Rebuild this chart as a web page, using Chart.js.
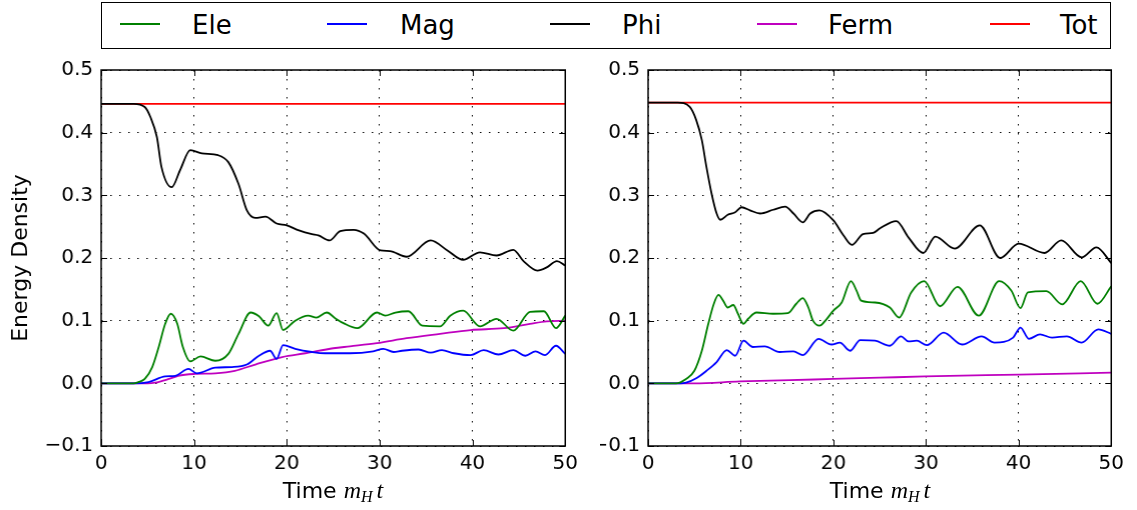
<!DOCTYPE html>
<html>
<head>
<meta charset="utf-8">
<script src="https://cdn.jsdelivr.net/npm/chart.js@4.4.0/dist/chart.umd.min.js"></script>
<style>
  body { margin: 0; background: #fff; font-family: "DejaVu Sans", sans-serif; }
  #page { position: relative; width: 1137px; height: 510px; overflow: hidden; }
  canvas { position: absolute; }
  #legend { position: absolute; left: 101px; top: 2px; width: 1010px; height: 47px;
            border: 1.5px solid #000; box-sizing: border-box; }
  .key { position: absolute; top: 20px; height: 1.8px; width: 40px; }
  .lbl { position: absolute; top: 7px; font-size: 26px; line-height: 30px; color: #000; }
  .xt { position: absolute; top: 477px; width: 464px; font-size: 22px; line-height: 26px; text-align: center; }
  .xt i { font-family: "Liberation Serif", serif; font-size: 24px; }
  .xt sub { font-family: "Liberation Serif", serif; font-style: italic; font-size: 16px; vertical-align: -4px; margin-right: 4px; }
</style>
</head>
<body>
<div id="page">
  <div id="legend"></div>
  <canvas id="left" width="580" height="455"></canvas>
  <canvas id="right" width="520" height="455"></canvas>
  <div class="xt" style="left:101px">Time&nbsp;<i>m</i><sub>H</sub><i>t</i></div>
  <div class="xt" style="left:648px">Time&nbsp;<i>m</i><sub>H</sub><i>t</i></div>
</div>
<script>
// series names and colours (legend order)
const seriesNames = ['Ele', 'Mag', 'Phi', 'Ferm', 'Tot'];
const seriesColors = ['#008000', '#0000ff', '#000000', '#bf00bf', '#ff0000'];

// legend layout: line start / text start inside the legend box
const keyLeft = [18, 225, 448, 655, 888];
const labelLeft = [90, 298, 520, 726, 958];

// axis ticks
const xTicks = [0, 10, 20, 30, 40, 50];
const yMin = -0.1, yMax = 0.5, yStep = 0.1;

// left panel, [time, energy density]
const leftEle = [[0,0],[3.5,0],[4.0,0.002],[4.7,0.007],[5.5,0.026],[6.2,0.058],[6.9,0.095],[7.5,0.111],[8.2,0.095],[8.8,0.058],[9.6,0.035],[10.7,0.043],[12.3,0.036],[13.7,0.047],[14.8,0.079],[16.1,0.113],[17.0,0.107],[18.0,0.092],[18.9,0.112],[19.6,0.085],[20.9,0.100],[22.3,0.108],[23.2,0.105],[24.3,0.113],[25.2,0.104],[26.1,0.096],[27.6,0.088],[29.7,0.113],[30.6,0.108],[31.7,0.113],[33.1,0.115],[34.6,0.092],[36.5,0.091],[37.6,0.108],[39.0,0.116],[40.8,0.091],[42.6,0.103],[44.4,0.084],[46.2,0.114],[47.7,0.115],[49.0,0.088],[50,0.108]];
const leftMag = [[0,0],[3.5,0],[5.1,0.002],[6.9,0.011],[8.0,0.012],[9.4,0.023],[10.3,0.016],[12.3,0.025],[14.1,0.026],[15.7,0.030],[17.0,0.044],[18.2,0.052],[18.9,0.039],[19.6,0.061],[20.9,0.055],[22.7,0.050],[24.1,0.048],[26.8,0.048],[29.3,0.051],[30.4,0.055],[31.5,0.050],[32.4,0.052],[34.2,0.054],[35.5,0.049],[36.7,0.053],[38.0,0.048],[39.8,0.045],[41.2,0.053],[42.8,0.046],[44.4,0.053],[45.7,0.044],[46.8,0.051],[47.8,0.045],[49.0,0.060],[50,0.047]];
const leftPhi = [[0,0.446],[3.5,0.446],[4.7,0.441],[5.3,0.425],[6.0,0.393],[6.5,0.345],[7.6,0.313],[8.5,0.340],[9.6,0.372],[10.85,0.367],[12.6,0.364],[13.7,0.353],[14.8,0.318],[15.7,0.276],[16.6,0.264],[17.7,0.266],[18.9,0.255],[20.0,0.252],[21.3,0.244],[22.7,0.238],[23.4,0.236],[24.6,0.228],[25.75,0.243],[27.2,0.245],[28.3,0.239],[30.1,0.212],[31.1,0.211],[32.9,0.202],[35.5,0.228],[37.3,0.212],[39.0,0.197],[40.8,0.209],[42.6,0.204],[44.4,0.213],[45.5,0.195],[47.0,0.180],[48.0,0.185],[49.1,0.195],[50,0.188]];
const leftFerm = [[0,0],[5.0,0],[5.8,0.001],[7.3,0.007],[8.3,0.012],[10.1,0.015],[12.3,0.016],[14.4,0.020],[16.6,0.030],[19.5,0.042],[22.0,0.048],[25.0,0.056],[26.8,0.059],[29.7,0.064],[32.9,0.072],[36.5,0.079],[39.8,0.085],[43.4,0.088],[46.2,0.095],[48.0,0.099],[50,0.100]];
const leftTot = [[0,0.446],[50,0.446]];

// right panel
const rightEle = [[0,0],[3.0,0],[4.1,0.007],[5.0,0.020],[5.8,0.052],[6.5,0.095],[7.1,0.127],[7.6,0.141],[8.1,0.132],[8.6,0.121],[9.2,0.125],[9.7,0.111],[10.3,0.095],[10.8,0.103],[11.7,0.113],[13.5,0.111],[15.1,0.112],[16.0,0.127],[16.7,0.136],[17.3,0.121],[17.8,0.100],[18.5,0.092],[19.3,0.103],[20.0,0.116],[20.9,0.129],[21.9,0.163],[22.5,0.148],[23.0,0.132],[24.5,0.129],[26.1,0.121],[27.1,0.105],[28.4,0.145],[29.8,0.163],[31.5,0.123],[33.4,0.154],[35.7,0.108],[37.9,0.163],[39.2,0.148],[40.2,0.120],[41.0,0.145],[43.0,0.147],[44.7,0.126],[46.7,0.163],[48.5,0.127],[50,0.155]];
const rightMag = [[0,0],[3.5,0],[4.1,0.001],[5.2,0.008],[6.3,0.020],[7.4,0.034],[8.5,0.053],[9.4,0.044],[10.3,0.068],[11.3,0.058],[12.6,0.059],[14.2,0.050],[15.7,0.051],[16.7,0.045],[18.4,0.071],[19.8,0.062],[20.7,0.065],[21.8,0.052],[22.9,0.069],[24.5,0.068],[26.1,0.060],[27.3,0.075],[28.1,0.067],[29.0,0.068],[30.1,0.061],[31.9,0.081],[33.9,0.062],[36.0,0.075],[37.4,0.065],[39.4,0.073],[40.2,0.089],[41.1,0.071],[42.3,0.078],[43.6,0.073],[45.2,0.075],[46.8,0.065],[48.6,0.086],[50,0.079]];
const rightPhi = [[0,0.448],[3.2,0.448],[4.5,0.441],[5.2,0.420],[5.8,0.388],[6.3,0.345],[6.85,0.303],[7.4,0.271],[7.8,0.261],[8.6,0.269],[9.4,0.273],[10.1,0.281],[11.0,0.276],[12.1,0.271],[13.5,0.277],[14.8,0.282],[15.7,0.271],[16.7,0.257],[17.5,0.271],[18.5,0.276],[20.0,0.260],[21.1,0.236],[22.0,0.221],[23.2,0.238],[24.3,0.240],[25.0,0.247],[26.8,0.259],[28.1,0.233],[29.7,0.208],[31.0,0.234],[33.1,0.215],[35.8,0.252],[38.0,0.200],[40.0,0.223],[42.8,0.208],[44.6,0.228],[46.8,0.201],[48.4,0.217],[50,0.192]];
const rightFerm = [[0,0],[5.0,0],[9.9,0.003],[15.3,0.005],[20,0.007],[25,0.009],[29.9,0.011],[40,0.014],[50,0.017]];
const rightTot = [[0,0.448],[50,0.448]];

// build the shared legend
const legend = document.getElementById('legend');
seriesNames.forEach((name, i) => {
    const key = document.createElement('div');
    key.className = 'key';
    key.style.left = keyLeft[i] + 'px';
    key.style.background = seriesColors[i];
    legend.appendChild(key);
    const lbl = document.createElement('div');
    lbl.className = 'lbl';
    lbl.style.left = labelLeft[i] + 'px';
    lbl.textContent = name;
    legend.appendChild(lbl);
});

// frame + inward tick marks like matplotlib
const framePlugin = {
    id: 'frame',
    afterDraw(chart) {
        const { ctx, chartArea: a, scales } = chart;
        ctx.save();
        ctx.strokeStyle = '#000';
        ctx.lineWidth = 1;
        ctx.beginPath();
        scales.x.ticks.forEach(t => {
            const px = Math.round(scales.x.getPixelForValue(t.value)) + 0.5;
            ctx.moveTo(px, a.bottom); ctx.lineTo(px, a.bottom - 6);
            ctx.moveTo(px, a.top); ctx.lineTo(px, a.top + 6);
        });
        scales.y.ticks.forEach(t => {
            const py = Math.round(scales.y.getPixelForValue(t.value)) + 0.5;
            ctx.moveTo(a.left, py); ctx.lineTo(a.left + 6, py);
            ctx.moveTo(a.right, py); ctx.lineTo(a.right - 6, py);
        });
        ctx.stroke();
        ctx.lineWidth = 1.5;
        ctx.strokeRect(a.left, a.top, a.right - a.left, a.bottom - a.top);
        ctx.restore();
    }
};

function fmtY(v) {
    const s = Math.abs(v).toFixed(1);
    return v < -1e-9 ? '\u2212' + s : s;
}

function chartConfig(series, yWidth, rightPad, showTitle) {
    return {
        type: 'line',
        data: {
            datasets: series.map((pts, i) => ({
                label: seriesNames[i],
                data: pts.map(p => ({ x: p[0], y: p[1] })),
                borderColor: seriesColors[i],
                borderWidth: 1.8,
                pointRadius: 0,
                fill: false,
                cubicInterpolationMode: 'monotone'
            }))
        },
        options: {
            responsive: false,
            maintainAspectRatio: false,
            animation: false,
            layout: { padding: { top: 15, right: rightPad, left: 0, bottom: 0 } },
            plugins: { legend: { display: false }, tooltip: { enabled: false } },
            scales: {
                x: {
                    type: 'linear',
                    min: xTicks[0],
                    max: xTicks[xTicks.length - 1],
                    afterBuildTicks: s => { s.ticks = xTicks.map(v => ({ value: v })); },
                    afterFit: s => { s.height = 64; },
                    grid: { color: '#000', lineWidth: 1, drawTicks: false },
                    border: { display: false, dash: [1.5, 7.5] },
                    ticks: {
                        color: '#000', padding: 6,
                        font: { family: 'DejaVu Sans', size: 20 },
                        callback: v => String(v)
                    }
                },
                y: {
                    min: yMin,
                    max: yMax,
                    afterFit: s => { s.width = yWidth; },
                    grid: { color: '#000', lineWidth: 1, drawTicks: false },
                    border: { display: false, dash: [1.5, 7.5] },
                    ticks: {
                        stepSize: yStep, color: '#000', padding: 8,
                        font: { family: 'DejaVu Sans', size: 20 },
                        callback: v => fmtY(v)
                    },
                    title: {
                        display: showTitle,
                        text: 'Energy Density',
                        color: '#000',
                        padding: { top: 8, bottom: 0 },
                        font: { family: 'DejaVu Sans', size: 22 }
                    }
                }
            }
        },
        plugins: [framePlugin]
    };
}

// draw once, then resize/shift the canvas so the plot area lands on the target box
function placeChart(id, series, yWidth, rightPad, showTitle, box) {
    const canvas = document.getElementById(id);
    let chart = new Chart(canvas.getContext('2d'), chartConfig(series, yWidth, rightPad, showTitle));
    const a = chart.chartArea;
    const w = canvas.width + (box.right - box.left) - (a.right - a.left);
    const h = canvas.height + (box.bottom - box.top) - (a.bottom - a.top);
    chart.destroy();
    canvas.width = w;
    canvas.height = h;
    canvas.style.width = w + 'px';
    canvas.style.height = h + 'px';
    chart = new Chart(canvas.getContext('2d'), chartConfig(series, yWidth, rightPad, showTitle));
    const b = chart.chartArea;
    canvas.style.left = (box.left - b.left) + 'px';
    canvas.style.top = (box.top - b.top) + 'px';
    return chart;
}

placeChart('left', [leftEle, leftMag, leftPhi, leftFerm, leftTot], 101, 15, true,
    { left: 101, top: 70, right: 565, bottom: 446 });
placeChart('right', [rightEle, rightMag, rightPhi, rightFerm, rightTot], 48, 9, false,
    { left: 648, top: 70, right: 1111, bottom: 446 });
</script>
</body>
</html>
